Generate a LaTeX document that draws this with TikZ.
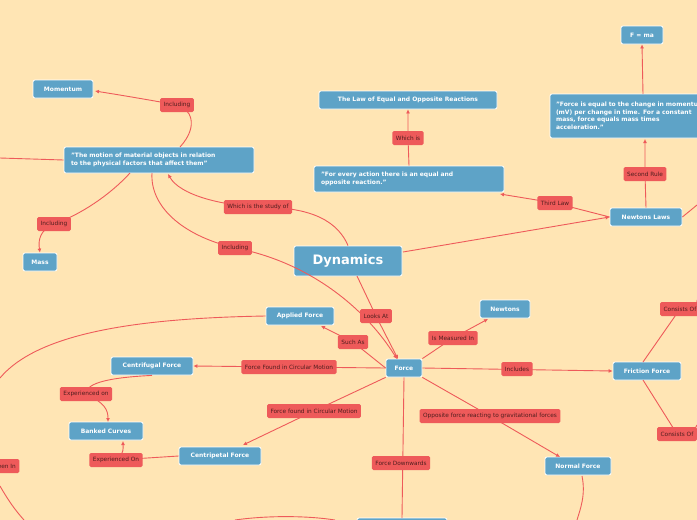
\documentclass[tikz,border=0pt]{standalone}
\usepackage{fontspec}
\setmainfont{DejaVu Sans}
\usetikzlibrary{arrows.meta}
\definecolor{bg}{RGB}{255,229,180}
\definecolor{bl}{RGB}{94,163,199}
\definecolor{rd}{RGB}{238,90,90}
\definecolor{lt}{RGB}{80,30,30}
\tikzset{
 x=1pt,y=-1pt,
 topic/.style={fill=bl,draw=white,line width=0.8pt,rounded corners=2pt,text=white,font=\fontsize{6}{7.5}\selectfont\bfseries,inner sep=0pt,minimum height=18pt},
 lab/.style={fill=rd,rounded corners=1.5pt,text=lt,font=\fontsize{5.8}{6.5}\selectfont,inner ysep=0pt,inner xsep=3.5pt,minimum height=14pt},
 con/.style={draw=rd,line width=0.9pt},
 arr/.style={con,-{Latex[length=4pt,width=4pt]}}
}
\begin{document}
\begin{tikzpicture}
\fill[bg] (0,0) rectangle (697,520);
\useasboundingbox (0,0) rectangle (697,520);
% topics
\node[topic,minimum width=108pt,minimum height=30pt,font=\fontsize{13}{15}\selectfont\bfseries] (dyn) at (348,261) {Dynamics};
\node[topic,minimum width=60pt] (mom) at (63,89) {Momentum};
\node[topic,minimum width=190pt,minimum height=26pt,align=left,text width=176pt] (mot) at (159,160) {"The motion of material objects in relation\\to the physical factors that affect them"};
\node[topic,minimum width=34pt] (mass) at (40,262) {Mass};
\node[topic,minimum width=178pt] (law) at (408,100) {The Law of Equal and Opposite Reactions};
\node[topic,minimum width=190pt,minimum height=26pt,align=left,text width=176pt] (act) at (409,179) {"For every action there is an equal and\\opposite reaction."};
\node[topic,minimum width=42pt] (fma) at (642,35) {F = ma};
\node[topic,minimum width=220pt,minimum height=44pt,align=left,text width=208pt] (feq) at (660,116) {"Force is equal to the change in momentum\\(mV) per change in time. For a constant\\mass, force equals mass times\\acceleration."};
\node[topic,minimum width=72pt] (nl) at (646,217) {Newtons Laws};
\node[topic,minimum width=68pt] (app) at (300,316) {Applied Force};
\node[topic,minimum width=50pt] (newt) at (505,309) {Newtons};
\node[topic,minimum width=82pt] (cf) at (152,366) {Centrifugal Force};
\node[topic,minimum width=36pt] (force) at (404,368) {Force};
\node[topic,minimum width=68pt] (fric) at (647,371) {Friction Force};
\node[topic,minimum width=74pt] (bank) at (106,431) {Banked Curves};
\node[topic,minimum width=82pt] (cp) at (220,456) {Centripetal Force};
\node[topic,minimum width=66pt] (norm) at (578,466) {Normal Force};
\node[topic,minimum width=90pt] (bot) at (402,527) {};
% label positions
\coordinate (l1) at (177,105);
\coordinate (l2) at (54,224);
\coordinate (l3) at (235,248);
\coordinate (l4) at (258,207);
\coordinate (l5) at (408,138);
\coordinate (l6) at (555,203);
\coordinate (l7) at (645,174);
\coordinate (l8) at (376,316);
\coordinate (l9) at (353,342);
\coordinate (l10) at (453,338);
\coordinate (l11) at (289,367);
\coordinate (l12) at (517,369);
\coordinate (l13) at (680,309);
\coordinate (l14) at (677,434);
\coordinate (l15) at (86,394);
\coordinate (l16) at (116,460);
\coordinate (l17) at (314,411);
\coordinate (l18) at (490,416);
\coordinate (l19) at (401,463);
\coordinate (l20) at (5,466);
\coordinate (e1) at (0,158);
\coordinate (e2) at (697,205);
\coordinate (e3) at (697,300);
\coordinate (e4) at (697,425);
\coordinate (e5) at (0,378);
\coordinate (e6) at (0,486);
\coordinate (e7) at (24,520);
\coordinate (e8) at (577,520);
\coordinate (e9) at (235,520);
\coordinate (e10) at (335,520);
% connectors
\draw[arr] (dyn.north) .. controls (335,215) and (300,207) .. (l4) .. controls (220,205) and (180,195) .. (168,174);
\draw[arr] (180,147) .. controls (200,125) and (190,108) .. (l1) .. controls (150,100) and (120,95) .. (95,91);
\draw[arr] (130,173) .. controls (110,195) and (80,215) .. (l2) .. controls (40,230) and (38,240) .. (mass.north);
\draw[con] (mot.west) -- (e1);
\draw[arr] (152,173) .. controls (150,205) and (180,235) .. (l3) .. controls (300,260) and (360,300) .. (397,359);
\draw[arr] (357,276) -- (l8) -- (398,359);
\draw[arr] (403,252) -- (nl.west);
\draw[arr] (nl.west) -- (l6) -- (500,194);
\draw[arr] (nl.north) -- (l7) -- (645,139);
\draw[arr] (643,94) -- (fma.south);
\draw[arr] (act.north) -- (l5) -- (law.south);
\draw[con] (nl.east) -- (e2);
\draw[arr] (force.west) -- (l9) -- (321,326);
\draw[arr] (force.north east) -- (l10) -- (488,319);
\draw[arr] (force.west) -- (cf.east);
\draw[arr] (force.east) -- (fric.west);
\draw[con] (643,362) -- (l13) .. controls (690,302) and (697,315) .. (e3);
\draw[con] (643,380) -- (l14) .. controls (690,432) and (697,428) .. (e4);
\draw[arr] (force.south west) -- (l17) -- (243,445);
\draw[arr] (force.south east) -- (l18) -- (560,457);
\draw[con] (force.south) -- (402,518);
\draw[arr] (cf.south) .. controls (100,378) and (86,385) .. (l15) .. controls (105,403) and (108,410) .. (108,422);
\draw[arr] (cp.west) -- (l16) .. controls (125,452) and (123,448) .. (123,441);
\draw[con] (app.west) .. controls (150,318) and (40,330) .. (e5);
\draw[con] (e6) .. controls (8,500) and (15,510) .. (e7);
\draw[con] (582,476) .. controls (586,495) and (580,510) .. (e8);
\draw[con] (e9) .. controls (270,515) and (310,516) .. (e10);
% labels
\node[lab] (n1) at (l1) {Including};
\node[lab] (n2) at (l2) {Including};
\node[lab] (n3) at (l3) {Including};
\node[lab] (n4) at (l4) {Which is the study of};
\node[lab] (n5) at (l5) {Which is};
\node[lab] (n6) at (l6) {Third Law};
\node[lab] (n7) at (l7) {Second Rule};
\node[lab] (n8) at (l8) {Looks At};
\node[lab] (n9) at (l9) {Such As};
\node[lab] (n10) at (l10) {Is Measured In};
\node[lab] (n11) at (l11) {Force Found in Circular Motion};
\node[lab] (n12) at (l12) {Includes};
\node[lab] (n13) at (l13) {Consists Of};
\node[lab] (n14) at (l14) {Consists Of};
\node[lab] (n15) at (l15) {Experienced on};
\node[lab] (n16) at (l16) {Experienced On};
\node[lab] (n17) at (l17) {Force found in Circular Motion};
\node[lab] (n18) at (l18) {Opposite force reacting to gravitational forces};
\node[lab] (n19) at (l19) {Force Downwards};
\node[lab] (n20) at (l20) {Seen In};
\end{tikzpicture}
\end{document}
